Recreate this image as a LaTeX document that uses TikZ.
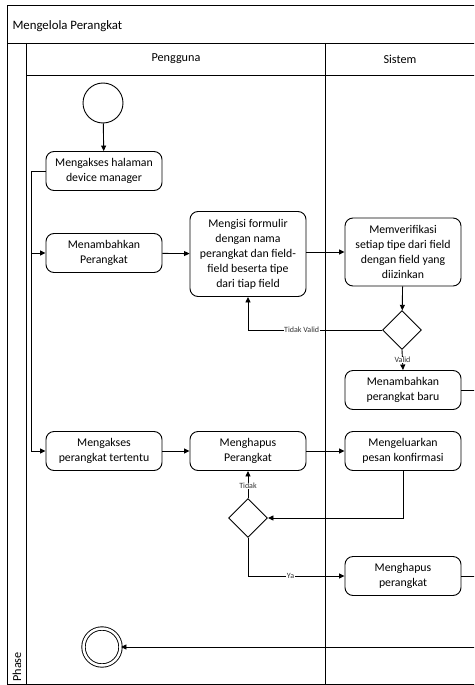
\documentclass[tikz,border=0pt]{standalone}
\usepackage{fontspec}
\setmainfont{Carlito}
\usetikzlibrary{arrows.meta,shapes.geometric}
\begin{document}
\begin{tikzpicture}[x=1pt,y=-1pt,
  frame/.style={draw=black,line width=0.9pt},
  act/.style={draw=black,line width=0.9pt,rounded corners=8pt,minimum width=116pt,
    minimum height=39pt,align=center,inner sep=2pt,font=\fontsize{11.8}{15}\selectfont},
  choice/.style={draw=black,line width=0.9pt,diamond,minimum width=39pt,minimum height=39pt,inner sep=0pt},
  flow/.style={draw=black,line width=0.9pt,-{Triangle[length=5.5pt,width=5pt]}},
  lbl/.style={fill=white,inner sep=0.5pt,text=black!80,font=\fontsize{8}{9}\selectfont},
  hdr/.style={font=\fontsize{12.2}{14}\selectfont}]
\useasboundingbox (0,0) rectangle (474,685);
\clip (0,0) rectangle (474,685);

% pool, title bar, phase column and lanes
\draw[frame] (7,5) rectangle (495,684);
\draw[frame] (7,43) -- (495,43);
\draw[frame] (26,43) -- (26,684);
\draw[frame] (26,75) -- (495,75);
\draw[frame] (325,43) -- (325,684);
\node[hdr,anchor=west,font=\fontsize{12.8}{14}\selectfont] (title) at (9,26) {Mengelola Perangkat};
\node[hdr] (lane1) at (176,59) {Pengguna};
\node[hdr] (lane2) at (400,59) {Sistem};
\node[hdr,rotate=90] (phase) at (17,667) {Phase};

% start and end
\node[draw,line width=0.9pt,circle,minimum size=40pt,inner sep=0pt] (start) at (103,103) {};
\node[draw,line width=0.9pt,circle,minimum size=37pt,inner sep=0pt,double,double distance=2.5pt] (end) at (102,647) {};

% activities
\node[act] (akses) at (104,171) {Mengakses halaman\\device manager};
\node[act] (tambah) at (104,253) {Menambahkan\\Perangkat};
\node[act,minimum height=85pt] (isi) at (248,254) {Mengisi formulir\\dengan nama\\perangkat dan field-\\field beserta tipe\\dari tiap field};
\node[act,minimum height=68pt] (verif) at (403,252) {Memverifikasi\\setiap tipe dari field\\dengan field yang\\diizinkan};
\node[choice] (cekvalid) at (402,330) {};
\node[act] (baru) at (403,390) {Menambahkan\\perangkat baru};
\node[act] (aksestentu) at (104,451) {Mengakses\\perangkat tertentu};
\node[act] (hapus) at (248,451) {Menghapus\\Perangkat};
\node[act] (konfirm) at (403,451) {Mengeluarkan\\pesan konfirmasi};
\node[choice] (cekhapus) at (248,518) {};
\node[act] (hapusdev) at (403,576) {Menghapus\\perangkat};

% off-page ends of the return flows
\coordinate (outA) at (495,390);
\coordinate (outB) at (495,576);
\coordinate (inEnd) at (495,647);

% connectors
\draw[flow] (start) -- (akses);
\draw[flow] (akses.west) -- (31,171) |- (tambah.west);
\draw[flow] (31,253) |- (aksestentu.west);
\draw[flow] (tambah) -- (isi);
\draw[flow] (isi.east |- verif.west) -- (verif.west);
\draw[flow] (verif) -- (cekvalid);
\draw[flow] (cekvalid.west) -| node[lbl,pos=0.3] (tv) {Tidak Valid} (isi.south);
\draw[flow] (cekvalid.south) -- node[lbl,pos=0.5] (vl) {Valid} (baru.north);
\draw[frame] (baru.east) -- (outA);
\draw[flow] (aksestentu) -- (hapus);
\draw[flow] (hapus) -- (konfirm);
\draw[flow] (konfirm.south) |- (cekhapus.east);
\draw[flow] (cekhapus.north) -- node[lbl,pos=0.45] (td) {Tidak} (hapus.south);
\draw[flow] (cekhapus.south) |- node[lbl,pos=0.72] (ya) {Ya} (hapusdev.west);
\draw[frame] (hapusdev.east) -- (outB);
\draw[flow] (inEnd) -- (end);
\end{tikzpicture}
\end{document}
